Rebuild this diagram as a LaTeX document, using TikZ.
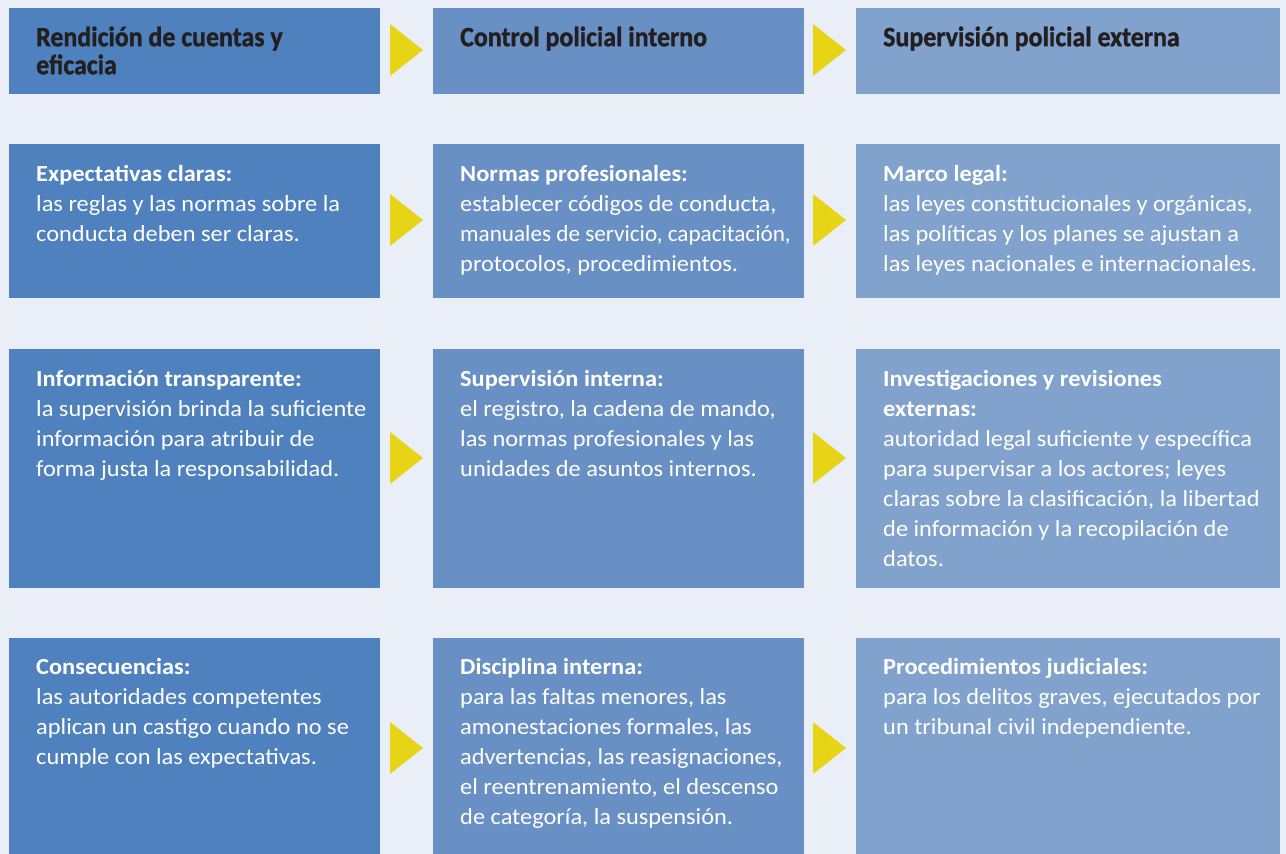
\documentclass[tikz,border=0pt]{standalone}
\usepackage{fontspec}
\usepackage{graphicx}
\setmainfont[FakeStretch=1.06]{Carlito}
\newfontfamily\hdfont[FakeStretch=0.925,FakeBold=1.2]{Carlito}
\usetikzlibrary{calc}
\definecolor{bgc}{HTML}{EAEEF7}
\definecolor{cA}{HTML}{4E81BD}
\definecolor{cB}{HTML}{6990C5}
\definecolor{cC}{HTML}{82A2CE}
\definecolor{arc}{HTML}{E8D416}
\definecolor{hdtext}{HTML}{231F20}
\tikzset{
  box/.style={rectangle, inner sep=0pt, outer sep=0pt, anchor=north west},
  hdtxt/.style={anchor=north west, inner sep=0pt, align=left, text=hdtext,
    font=\hdfont\bfseries\fontsize{28}{28}\selectfont},
  bodytxt/.style={anchor=north west, inner sep=0pt, align=left, text=white,
    font=\fontsize{23}{30}\selectfont},
  arr/.style={fill=arc}
}
\newcommand\tri[2]{\fill[arr] (#1,#2-26) -- (#1+33,#2) -- (#1,#2+26) -- cycle;}
\newcommand\fs{\rule{0pt}{21pt}}
\newcommand\hs{\rule{0pt}{22pt}}
\begin{document}
\begin{tikzpicture}[x=1pt,y=-1pt]
\fill[bgc] (0,0) rectangle (1286,854);
\useasboundingbox (0,0) rectangle (1286,854);
% header boxes
\node[box, fill=cA, minimum width=371pt, minimum height=86pt] (h1) at (9,8) {};
\node[box, fill=cB, minimum width=371pt, minimum height=86pt] (h2) at (433,8) {};
\node[box, fill=cC, minimum width=424pt, minimum height=86pt] (h3) at (856,8) {};
% row 1
\node[box, fill=cA, minimum width=371pt, minimum height=154pt] (a1) at (9,144) {};
\node[box, fill=cB, minimum width=371pt, minimum height=154pt] (a2) at (433,144) {};
\node[box, fill=cC, minimum width=424pt, minimum height=154pt] (a3) at (856,144) {};
% row 2
\node[box, fill=cA, minimum width=371pt, minimum height=239pt] (b1) at (9,349) {};
\node[box, fill=cB, minimum width=371pt, minimum height=239pt] (b2) at (433,349) {};
\node[box, fill=cC, minimum width=424pt, minimum height=239pt] (b3) at (856,349) {};
% row 3
\node[box, fill=cA, minimum width=371pt, minimum height=216pt] (c1) at (9,638) {};
\node[box, fill=cB, minimum width=371pt, minimum height=216pt] (c2) at (433,638) {};
\node[box, fill=cC, minimum width=424pt, minimum height=216pt] (c3) at (856,638) {};

% header texts (first baseline at 46)
\node[hdtxt] (th1) at (36,24) {\hs Rendición de cuentas y\\eficacia};
\node[hdtxt] (th2) at (460,24) {\hs Control policial interno};
\node[hdtxt] (th3) at (883,24) {\hs Supervisión policial externa};

% row 1 texts (first baseline at 181)
\node[bodytxt] (ta1) at (36,160) {\fs\textbf{Expectativas claras:}\\las reglas y las normas sobre la\\conducta deben ser claras.};
\node[bodytxt] (ta2) at (460,160) {\fs\textbf{Normas profesionales:}\\establecer códigos de conducta,\\\scalebox{0.95}[1]{manuales de servicio, capacitación,}\\protocolos, procedimientos.};
\node[bodytxt] (ta3) at (883,160) {\fs\textbf{Marco legal:}\\las leyes constitucionales y orgánicas,\\las políticas y los planes se ajustan a\\las leyes nacionales e internacionales.};

% row 2 texts (first baseline at 386)
\node[bodytxt] (tb1) at (36,365) {\fs\textbf{Información transparente:}\\la supervisión brinda la suficiente\\información para atribuir de\\forma justa la responsabilidad.};
\node[bodytxt] (tb2) at (460,365) {\fs\textbf{Supervisión interna:}\\el registro, la cadena de mando,\\las normas profesionales y las\\unidades de asuntos internos.};
\node[bodytxt] (tb3) at (883,365) {\fs\textbf{Investigaciones y revisiones}\\\textbf{externas:}\\autoridad legal suficiente y específica\\para supervisar a los actores; leyes\\claras sobre la clasificación, la libertad\\de información y la recopilación de\\datos.};

% row 3 texts (first baseline at 674)
\node[bodytxt] (tc1) at (36,653) {\fs\textbf{Consecuencias:}\\las autoridades competentes\\aplican un castigo cuando no se\\cumple con las expectativas.};
\node[bodytxt] (tc2) at (460,653) {\fs\textbf{Disciplina interna:}\\para las faltas menores, las\\amonestaciones formales, las\\advertencias, las reasignaciones,\\el reentrenamiento, el descenso\\de categoría, la suspensión.};
\node[bodytxt] (tc3) at (883,653) {\fs\textbf{Procedimientos judiciales:}\\para los delitos graves, ejecutados por\\un tribunal civil independiente.};

% arrows
\tri{390}{50}\tri{813}{50}
\tri{390}{220}\tri{813}{220}
\tri{390}{458}\tri{813}{458}
\tri{390}{748}\tri{813}{748}
\end{tikzpicture}
\end{document}
